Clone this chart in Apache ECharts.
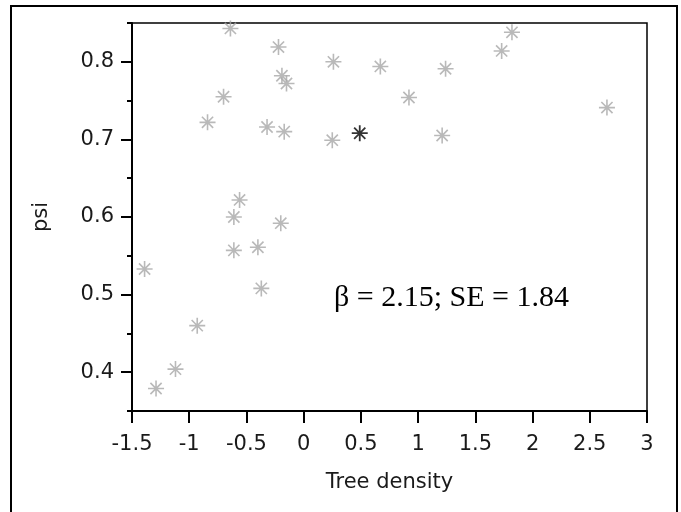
<!DOCTYPE html>
<html>
<head>
<meta charset="utf-8">
<script src="https://cdn.jsdelivr.net/npm/echarts@6/dist/echarts.min.js"></script>
<style>
  html, body { margin: 0; padding: 0; background: #fff; }
  #chart { width: 681px; height: 512px; }
</style>
</head>
<body>
<div id="chart"></div>
<script>
// tree density (x) vs psi (y), gray sites
var densidad = [-0.64, -0.22, -0.19, -0.15, -0.70, -0.84, -0.32, -0.17, 0.25, 0.26,
                -0.56, -0.61, -0.20, -0.61, -0.40, -1.39, -0.37, -0.93, -1.12, -1.29,
                1.82, 1.73, 0.67, 1.24, 0.92, 2.65, 1.21];
var psi = [0.843, 0.819, 0.782, 0.772, 0.755, 0.722, 0.716, 0.710, 0.699, 0.800,
           0.622, 0.600, 0.592, 0.557, 0.561, 0.533, 0.508, 0.460, 0.404, 0.379,
           0.838, 0.814, 0.794, 0.791, 0.754, 0.741, 0.705];
// highlighted (black) site
var destacadoX = [0.49];
var destacadoY = [0.708];

var ticksY = [0.4, 0.5, 0.6, 0.7, 0.8];
var ticksYmenor = [0.35, 0.45, 0.55, 0.65, 0.75, 0.85];
var textoBeta = 'β = 2.15; SE = 1.84';

function armarPuntos(xs, ys) {
  var out = [];
  for (var i = 0; i < xs.length; i++) out.push([xs[i], ys[i]]);
  return out;
}

var asterisco = 'path://M8,0L8,16M0,8L16,8M2.4,2.4L13.6,13.6M13.6,2.4L2.4,13.6';
var fuente = 'DejaVu Sans';

var myChart = echarts.init(document.getElementById('chart'));
myChart.setOption({
  animation: false,
  backgroundColor: '#fff',
  grid: {
    left: 132, right: 34, top: 23, bottom: 101,
    show: true, borderColor: '#000', borderWidth: 1.5, backgroundColor: 'transparent'
  },
  xAxis: {
    type: 'value',
    min: -1.5, max: 3, interval: 0.5,
    name: 'Tree density',
    nameLocation: 'middle',
    nameGap: 61,
    nameTextStyle: { fontFamily: fuente, fontSize: 21, color: '#1a1a1a' },
    axisLine: { onZero: false, lineStyle: { color: '#000', width: 2 } },
    axisTick: { length: 12, lineStyle: { color: '#000', width: 2 } },
    axisLabel: { margin: 23, fontFamily: fuente, fontSize: 21, color: '#1a1a1a' },
    splitLine: { show: false }
  },
  yAxis: [{
    type: 'value',
    min: 0.35, max: 0.85,
    name: 'psi',
    nameLocation: 'middle',
    nameGap: 80,
    nameTextStyle: { fontFamily: fuente, fontSize: 21, color: '#1a1a1a' },
    axisLine: { onZero: false, lineStyle: { color: '#000', width: 2 } },
    axisTick: { length: 11, customValues: ticksY, lineStyle: { color: '#000', width: 2 } },
    axisLabel: { margin: 18, customValues: ticksY, fontFamily: fuente, fontSize: 21, color: '#1a1a1a' },
    splitLine: { show: false }
  }, {
    type: 'value',
    position: 'left',
    min: 0.35, max: 0.85,
    axisLine: { show: false, onZero: false },
    axisTick: { length: 5, customValues: ticksYmenor, lineStyle: { color: '#000', width: 2 } },
    axisLabel: { show: false },
    splitLine: { show: false }
  }],
  graphic: [{
    type: 'rect',
    shape: { x: 11, y: 6, width: 666, height: 530 },
    style: { fill: 'none', stroke: '#000', lineWidth: 2 },
    silent: true
  }, {
    type: 'text',
    x: 334, y: 298,
    style: {
      text: textoBeta,
      font: '30px "Liberation Serif", "Times New Roman", serif',
      fill: '#000',
      verticalAlign: 'middle'
    },
    silent: true
  }],
  series: [{
    type: 'scatter',
    data: armarPuntos(densidad, psi),
    symbol: asterisco,
    symbolSize: 16,
    itemStyle: { color: 'transparent', borderColor: '#a8a8a8', borderWidth: 1.6 },
    emphasis: { disabled: true }
  }, {
    type: 'scatter',
    data: armarPuntos(destacadoX, destacadoY),
    symbol: asterisco,
    symbolSize: 16,
    itemStyle: { color: 'transparent', borderColor: '#000', borderWidth: 1.8 },
    emphasis: { disabled: true },
    z: 3
  }]
});
</script>
</body>
</html>
